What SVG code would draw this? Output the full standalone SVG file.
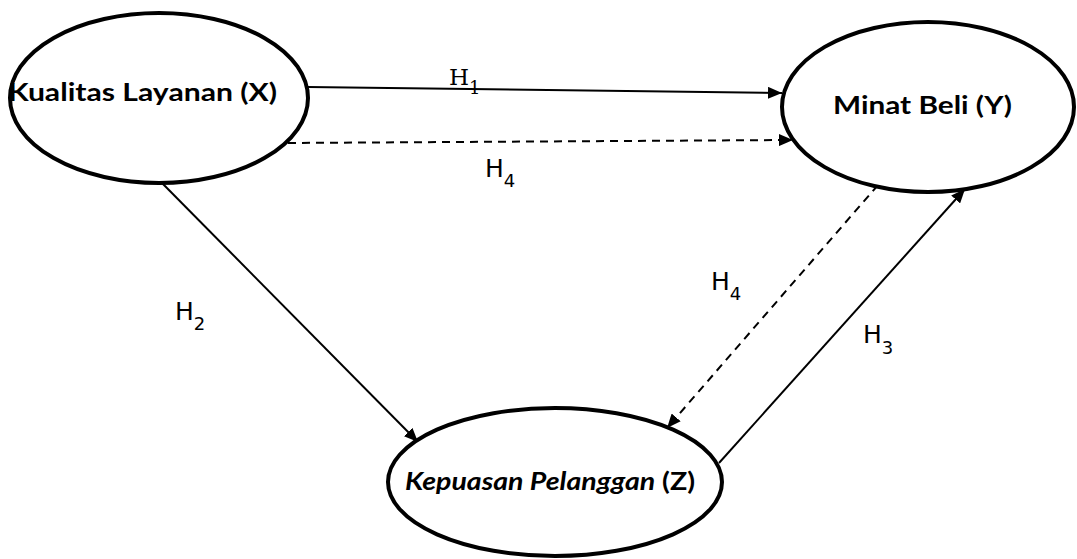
<svg xmlns="http://www.w3.org/2000/svg" width="1077" height="559" viewBox="0 0 1077 559">
<defs>
<marker id="ah" viewBox="0 0 14 12" refX="14" refY="6" markerWidth="14" markerHeight="12" markerUnits="userSpaceOnUse" orient="auto">
<path d="M0,0 L14,6 L0,12 z" fill="#000"/>
</marker>
<style>
.node{fill:#fff;stroke:#000;stroke-width:4}
.lbl{font-family:Lato,"Liberation Sans",sans-serif;font-weight:bold;font-size:24px;fill:#000}
.edge{stroke:#000;stroke-width:2;fill:none}
.dash{stroke-dasharray:8,6}
.h{font-family:"DejaVu Sans","Liberation Sans",sans-serif;font-size:25px;fill:#000}
.sub{font-size:18px}
.hs{font-family:"DejaVu Serif","Liberation Serif",serif;font-size:23px;fill:#000}
</style>
</defs>
<rect width="1077" height="559" fill="#fff"/>
<g id="connectors">
<line class="edge" x1="308" y1="87" x2="782" y2="93" marker-end="url(#ah)"/>
<line class="edge dash" x1="288" y1="143" x2="793" y2="140" marker-end="url(#ah)"/>
<line class="edge" x1="162" y1="183" x2="418" y2="442" marker-end="url(#ah)"/>
<line class="edge dash" x1="878" y1="185" x2="667" y2="428" marker-end="url(#ah)"/>
<line class="edge" x1="719" y1="463" x2="965" y2="189" marker-end="url(#ah)"/>
<text class="hs" x="449" y="85">H<tspan class="sub" dy="9">1</tspan></text>
<text class="h" x="485" y="177">H<tspan class="sub" dy="10">4</tspan></text>
<text class="h" x="175" y="320">H<tspan class="sub" dy="10">2</tspan></text>
<text class="h" x="711" y="290">H<tspan class="sub" dy="10">4</tspan></text>
<text class="h" x="863" y="343">H<tspan class="sub" dy="11">3</tspan></text>
</g>
<g id="node-x">
<ellipse class="node" cx="159" cy="98" rx="149" ry="85"/>
<text class="lbl" x="8" y="101" textLength="269" lengthAdjust="spacingAndGlyphs">Kualitas Layanan (X)</text>
</g>
<g id="node-y">
<ellipse class="node" cx="928" cy="107" rx="146" ry="85"/>
<text class="lbl" x="833" y="114" textLength="179" lengthAdjust="spacingAndGlyphs">Minat Beli (Y)</text>
</g>
<g id="node-z">
<ellipse class="node" cx="555" cy="482" rx="167" ry="74"/>
<text class="lbl" x="405" y="490" textLength="290" lengthAdjust="spacingAndGlyphs"><tspan font-style="italic">Kepuasan Pelanggan</tspan> (Z)</text>
</g>
</svg>
